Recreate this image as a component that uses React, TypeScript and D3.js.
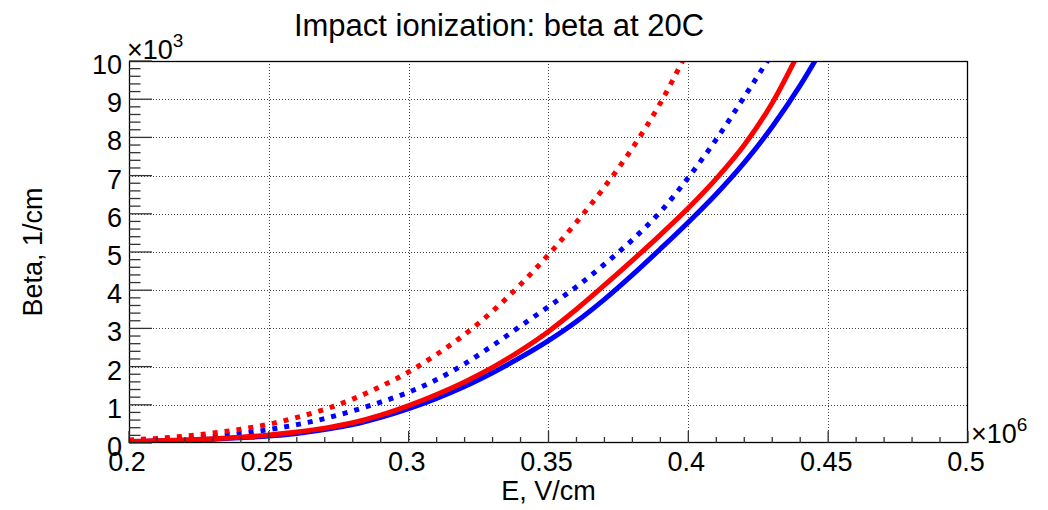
import React from "react";
import * as d3 from "d3";

// Electric field grid (units of 10^6 V/cm)
const FIELD = [0.20, 0.21, 0.22, 0.23, 0.24, 0.25, 0.26, 0.27, 0.28, 0.29, 0.30, 0.31, 0.32, 0.33, 0.34, 0.35, 0.36, 0.37, 0.38, 0.39, 0.40, 0.41, 0.42, 0.43, 0.44, 0.45];

// Beta values (units of 10^3 1/cm)
const RED_SOLID = [0.04, 0.06, 0.08, 0.11, 0.15, 0.21, 0.29, 0.39, 0.53, 0.73, 0.98, 1.27, 1.6, 1.98, 2.42, 2.92, 3.5, 4.13, 4.78, 5.45, 6.15, 6.92, 7.8, 8.9, 10.3];
const BLUE_SOLID = [0.03, 0.05, 0.07, 0.1, 0.14, 0.18, 0.25, 0.35, 0.48, 0.67, 0.9, 1.17, 1.48, 1.84, 2.24, 2.68, 3.18, 3.76, 4.4, 5.08, 5.78, 6.52, 7.34, 8.28, 9.36, 10.6];
const RED_DOTTED = [0.08, 0.12, 0.18, 0.26, 0.36, 0.49, 0.67, 0.88, 1.15, 1.48, 1.86, 2.32, 2.84, 3.45, 4.15, 4.93, 5.78, 6.7, 7.72, 8.9, 10.3];
const BLUE_DOTTED = [0.05, 0.08, 0.11, 0.17, 0.25, 0.35, 0.48, 0.64, 0.84, 1.07, 1.33, 1.66, 2.07, 2.55, 3.06, 3.57, 4.09, 4.68, 5.32, 6.05, 6.95, 7.95, 9.06, 10.2];

const X_TICKS = [0.2, 0.25, 0.3, 0.35, 0.4, 0.45, 0.5];
const X_TICK_LABELS = ["0.2", "0.25", "0.3", "0.35", "0.4", "0.45", "0.5"];
const Y_TICKS = [0, 1, 2, 3, 4, 5, 6, 7, 8, 9, 10];

const TITLE = "Impact ionization: beta at 20C";
const X_TITLE = "E, V/cm";
const Y_TITLE = "Beta, 1/cm";

const W = 1048;
const H = 510;
const L = 129, R = 968, T = 61, B = 443;

export default function App() {
  const x = d3.scaleLinear().domain([0.2, 0.5]).range([L, R]);
  const y = d3.scaleLinear().domain([0, 10]).range([B, T]);

  const line = d3
    .line<[number, number]>()
    .x((d) => x(d[0]))
    .y((d) => y(d[1]))
    .curve(d3.curveMonotoneX);

  const pts = (vals: number[]) => vals.map((v, i) => [FIELD[i], v] as [number, number]);

  const xMinor = d3.range(0, 31).map((i) => 0.2 + i * 0.01);
  const yMinor = d3.range(0, 51).map((i) => i * 0.2);

  const font = "'Liberation Sans', Arial, Helvetica, sans-serif";

  return (
    <svg width={W} height={H} style={{ position: "absolute", left: 0, top: 0, background: "#fff" }} fontFamily={font}>
      <rect x={0} y={0} width={W} height={H} fill="#fff" />
      <defs>
        <clipPath id="plotclip">
          <rect x={L} y={T} width={R - L} height={B - T} />
        </clipPath>
      </defs>
      {/* grid */}
      <g stroke="#444" strokeWidth={1} strokeDasharray="1 2">
        {X_TICKS.slice(1, -1).map((t) => (
          <line key={"gx" + t} x1={Math.round(x(t)) + 0.5} x2={Math.round(x(t)) + 0.5} y1={T} y2={B} />
        ))}
        {Y_TICKS.slice(1, -1).map((t) => (
          <line key={"gy" + t} x1={L} x2={R} y1={Math.round(y(t)) + 0.5} y2={Math.round(y(t)) + 0.5} />
        ))}
      </g>
      {/* curves */}
      <g clipPath="url(#plotclip)" fill="none">
        <path d={line(pts(BLUE_DOTTED)) || ""} stroke="#0000ff" strokeWidth={5} strokeDasharray="5 7" />
        <path d={line(pts(RED_DOTTED)) || ""} stroke="#ff0000" strokeWidth={5} strokeDasharray="5 7" />
        <path d={line(pts(BLUE_SOLID)) || ""} stroke="#0000ff" strokeWidth={5} />
        <path d={line(pts(RED_SOLID)) || ""} stroke="#ff0000" strokeWidth={5} />
      </g>
      {/* frame */}
      <rect x={L + 0.5} y={T + 0.5} width={R - L - 1} height={B - T - 1} fill="none" stroke="#000" strokeWidth={1.3} />
      {/* ticks */}
      <g stroke="#333" strokeWidth={1.3}>
        {xMinor.map((t, i) => (
          <line key={"xt" + i} x1={x(t)} x2={x(t)} y1={B} y2={B - (i % 5 === 0 ? 12 : 6)} />
        ))}
        {yMinor.map((t, i) => (
          <line key={"yt" + i} x1={L} x2={L + (i % 5 === 0 ? 23 : 11.5)} y1={y(t)} y2={y(t)} />
        ))}
      </g>
      {/* tick labels */}
      <g fontSize={27} fill="#000">
        {X_TICKS.map((t, i) => (
          <text key={"xl" + t} x={x(t) - 2} y={471} textAnchor="middle">
            {X_TICK_LABELS[i]}
          </text>
        ))}
        {Y_TICKS.map((t) => (
          <text key={"yl" + t} x={122} y={y(t) + 13} textAnchor="end">
            {t}
          </text>
        ))}
      </g>
      {/* exponents */}
      <text x={127} y={59} fontSize={27} fill="#000">
        ×10<tspan fontSize={19} dy={-12}>3</tspan>
      </text>
      <text x={971} y={443} fontSize={27} fill="#000">
        ×10<tspan fontSize={19} dy={-12}>6</tspan>
      </text>
      {/* titles */}
      <text x={499} y={36} fontSize={31} textAnchor="middle" fill="#000">
        {TITLE}
      </text>
      <text x={(L + R) / 2} y={500} fontSize={27} textAnchor="middle" fill="#000">
        {X_TITLE}
      </text>
      <text transform={`translate(42, ${(T + B) / 2}) rotate(-90)`} fontSize={27} textAnchor="middle" fill="#000">
        {Y_TITLE}
      </text>
    </svg>
  );
}
